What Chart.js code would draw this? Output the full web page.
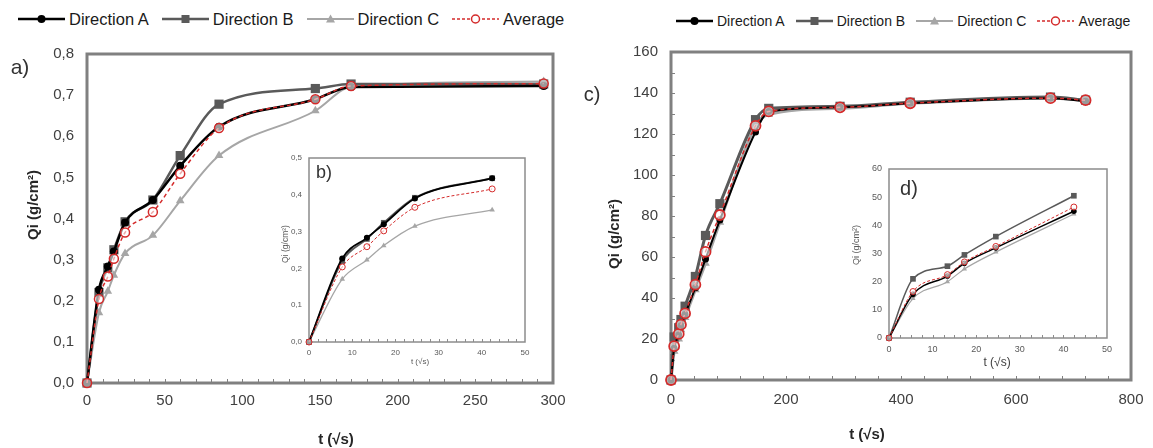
<!DOCTYPE html>
<html>
<head>
<meta charset="utf-8">
<title>Qi vs t</title>
<script src="https://cdn.jsdelivr.net/npm/chart.js@4.4.0/dist/chart.umd.min.js"></script>
<style>
  html, body { margin: 0; padding: 0; background: #fff; }
  #page { position: relative; width: 1153px; height: 448px; overflow: hidden;
          font-family: "Liberation Sans", Arial, sans-serif; }
  canvas { position: absolute; }
  .legend { position: absolute; display: flex; align-items: center; white-space: nowrap; color: #1a1a1a; line-height: 20px; }
  .legend .item { display: flex; align-items: center; }
  .legend svg { margin-right: 4px; }
  .txt { position: absolute; white-space: nowrap; transform: translate(-50%, -50%); line-height: 1; }
  .rot { transform: translate(-50%, -50%) rotate(-90deg); }
  .ttl { font-weight: bold; color: #262626; }
</style>
</head>
<body>
<div id="page">
  <div class="legend" id="legA" style="left:18px; top:9px; font-size:16.5px;"></div>
  <div class="legend" id="legC" style="left:676px; top:11px; font-size:14px;"></div>

  <canvas id="chartA" width="566" height="404" style="left:0; top:44px;"></canvas>
  <canvas id="chartB" width="268" height="224" style="left:268px; top:150px;"></canvas>
  <canvas id="chartC" width="578" height="408" style="left:575px; top:40px;"></canvas>
  <canvas id="chartD" width="275" height="215" style="left:845px; top:160px;"></canvas>

  <div class="txt" style="left:20px; top:66px; font-size:21px; color:#333;">a)</div>
  <div class="txt" style="left:324px; top:172px; font-size:18px; color:#333;">b)</div>
  <div class="txt" style="left:592px; top:94px; font-size:20px; color:#333;">c)</div>
  <div class="txt" style="left:909px; top:188px; font-size:20px; color:#333;">d)</div>

  <div class="txt ttl" style="left:336px; top:438px; font-size:15px;">t (√s)</div>
  <div class="txt ttl rot" style="left:32px; top:205px; font-size:15px;">Qi (g/cm²)</div>
  <div class="txt ttl" style="left:867px; top:433px; font-size:15px;">t (√s)</div>
  <div class="txt ttl rot" style="left:613px; top:234px; font-size:15px;">Qi (g/cm²)</div>

  <div class="txt" style="left:420px; top:362px; font-size:8px; color:#595959;">t (√s)</div>
  <div class="txt rot" style="left:285px; top:244px; font-size:8.5px; color:#595959;">Qi (g/cm²)</div>
  <div class="txt" style="left:997px; top:362px; font-size:12px; color:#404040;">t (√s)</div>
  <div class="txt rot" style="left:856px; top:245px; font-size:9px; color:#595959;">Qi (g/cm²)</div>
</div>

<script>
Chart.defaults.font.family = '"Liberation Sans", Arial, sans-serif';

// time in √s
const timeA = [0, 7.7, 13.4, 17.3, 24.5, 42.4, 60, 85, 147, 170, 294];
// panel a) and inset b) - Qi (g/cm2)
const aDirA = [0, 0.227, 0.283, 0.32, 0.39, 0.445, 0.528, 0.623, 0.69, 0.72, 0.722];
const aDirB = [0, 0.22, 0.28, 0.324, 0.392, 0.445, 0.553, 0.678, 0.716, 0.727, 0.727];
const aDirC = [0, 0.171, 0.223, 0.262, 0.315, 0.359, 0.443, 0.553, 0.662, 0.72, 0.733];
const aAvg  = [0, 0.204, 0.259, 0.302, 0.366, 0.416, 0.509, 0.62, 0.69, 0.722, 0.728];

// panel c) and inset d)
const timeC = [0, 5.5, 13.4, 17.3, 24.5, 42.4, 60, 85, 147, 170, 294, 416, 660, 721];
const cDirA = [0, 15.5, 22, 26.5, 32, 45, 59, 78, 121, 131, 133, 135, 137.5, 136];
const cDirB = [0, 21, 25.5, 29.5, 36, 50.5, 70.5, 86, 127, 132.5, 133.5, 135.5, 138, 136.5];
const cDirC = [0, 14, 20, 24.5, 30.5, 44, 57, 77, 124, 129.5, 132.5, 135, 137.5, 136.5];
const cAvg  = [0, 16.5, 22.5, 27, 32.5, 46.5, 62.5, 80.5, 124, 131, 133, 135, 137.5, 136.5];

const insetCount = 6; // insets show the first points only

const seriesNames = ['Direction A', 'Direction B', 'Direction C', 'Average'];
const seriesColors = ['#000000', '#5a5a5a', '#a6a6a6', '#d42a2a'];
const pointStyles = ['circle', 'rect', 'triangle', 'circle'];

// legend (html)
function icon(i, len) {
  const c = seriesColors[i], m = len / 2;
  let s = '<svg width="' + len + '" height="14">';
  if (i === 3) {
    s += '<line x1="0" y1="7" x2="' + len + '" y2="7" stroke="' + c + '" stroke-width="1.5" stroke-dasharray="3,2"/>';
    s += '<circle cx="' + m + '" cy="7" r="4" fill="#fff" stroke="' + c + '" stroke-width="1.5"/>';
  } else {
    s += '<line x1="0" y1="7" x2="' + len + '" y2="7" stroke="' + c + '" stroke-width="' + (i === 2 ? 2 : 2.5) + '"/>';
    if (i === 0) s += '<circle cx="' + m + '" cy="7" r="4" fill="' + c + '"/>';
    if (i === 1) s += '<rect x="' + (m - 4) + '" y="3" width="8" height="8" fill="' + c + '"/>';
    if (i === 2) s += '<polygon points="' + (m - 4.5) + ',10.5 ' + (m + 4.5) + ',10.5 ' + m + ',2.5" fill="' + c + '"/>';
  }
  return s + '</svg>';
}
function buildLegend(id, len, gap) {
  const el = document.getElementById(id);
  seriesNames.forEach((name, i) => {
    const item = document.createElement('span');
    item.className = 'item';
    if (i > 0) item.style.marginLeft = gap + 'px';
    item.innerHTML = icon(i, len) + '<span>' + name + '</span>';
    el.appendChild(item);
  });
}
buildLegend('legA', 47, 13);
buildLegend('legC', 37, 11);

// frame around plot area + small inner ticks
const framePlugin = {
  id: 'frame',
  beforeDatasetsDraw(chart, args, o) {
    const { ctx, chartArea: ca, scales } = chart;
    ctx.save();
    ctx.strokeStyle = o.color;
    ctx.lineWidth = 1;
    if (o.xMinor) {
      for (let v = scales.x.min + o.xMinor; v < scales.x.max - 1e-9; v += o.xMinor) {
        const px = Math.round(scales.x.getPixelForValue(v)) + 0.5;
        ctx.beginPath(); ctx.moveTo(px, ca.bottom); ctx.lineTo(px, ca.bottom - o.tick); ctx.stroke();
      }
    }
    if (o.yMinor) {
      for (let v = scales.y.min + o.yMinor; v < scales.y.max - 1e-9; v += o.yMinor) {
        const py = Math.round(scales.y.getPixelForValue(v)) + 0.5;
        ctx.beginPath(); ctx.moveTo(ca.left, py); ctx.lineTo(ca.left + o.tick, py); ctx.stroke();
      }
    }
    ctx.lineWidth = o.width;
    ctx.strokeRect(ca.left, ca.top, ca.right - ca.left, ca.bottom - ca.top);
    ctx.restore();
  }
};

function buildSets(t, ys, st) {
  return seriesNames.map((name, i) => ({
    label: name,
    data: ys[i].map((y, k) => ({ x: t[k], y: y })),
    borderColor: seriesColors[i],
    borderWidth: st.lineW[i],
    borderDash: i === 3 ? st.dash : [],
    pointStyle: pointStyles[i],
    pointRadius: st.pointR[i],
    pointBackgroundColor: i === 3 ? 'rgba(255,255,255,0.6)' : seriesColors[i],
    pointBorderColor: seriesColors[i],
    pointBorderWidth: i === 3 ? st.avgBorder : 0,
    cubicInterpolationMode: 'monotone',
    clip: false,
    order: [1, 2, 3, 0][i]
  }));
}

const comma = v => v.toFixed(1).replace('.', ',');

function makeChart(id, datasets, o) {
  return new Chart(document.getElementById(id), {
    type: 'line',
    data: { datasets: datasets },
    options: {
      responsive: false,
      animation: false,
      events: [],
      layout: { padding: o.pad },
      plugins: {
        legend: { display: false },
        tooltip: { enabled: false },
        frame: o.frame
      },
      scales: {
        x: {
          type: 'linear', min: o.x[0], max: o.x[1],
          ticks: { stepSize: o.x[2], padding: o.xPad, color: o.tickColor, font: { size: o.font }, maxRotation: 0 },
          grid: { display: false, drawTicks: false },
          border: { display: false },
          afterFit: s => { s.height = o.xH; s.paddingLeft = 0; s.paddingRight = 0; }
        },
        y: {
          type: 'linear', min: o.y[0], max: o.y[1],
          ticks: { stepSize: o.y[2], padding: o.yPad, color: o.tickColor, font: { size: o.font }, callback: o.yFmt },
          grid: { display: false, drawTicks: false },
          border: { display: false },
          afterFit: s => { s.width = o.yW; s.paddingTop = 0; s.paddingBottom = 0; }
        }
      }
    },
    plugins: [framePlugin]
  });
}

// a) main
makeChart('chartA',
  buildSets(timeA, [aDirA, aDirB, aDirC, aAvg],
    { lineW: [2.5, 2.5, 2, 1.5], pointR: [4, 6.5, 5, 4.5], dash: [4, 3], avgBorder: 1.5 }),
  { pad: { left: 0, top: 10, right: 13, bottom: 0 }, x: [0, 300, 50], y: [0, 0.8, 0.1],
    xH: 65, yW: 87, xPad: 9, yPad: 13, font: 15, tickColor: '#404040', yFmt: comma,
    frame: { color: '#808080', width: 3, tick: 4, xMinor: 10 } });

// b) inset
const cut = arr => arr.slice(0, insetCount);
makeChart('chartB',
  buildSets(cut(timeA), [cut(aDirA), cut(aDirB), cut(aDirC), cut(aAvg)],
    { lineW: [1.8, 1.8, 1.3, 1], pointR: [3, 4, 3.2, 3], dash: [3, 2], avgBorder: 1 }),
  { pad: { left: 0, top: 8, right: 11, bottom: 0 }, x: [0, 50, 10], y: [0, 0.5, 0.1],
    xH: 32, yW: 41, xPad: 6, yPad: 7, font: 8, tickColor: '#595959', yFmt: comma,
    frame: { color: '#8c8c8c', width: 1.5, tick: 3, xMinor: 2 } });

// c) main
makeChart('chartC',
  buildSets(timeC, [cDirA, cDirB, cDirC, cAvg],
    { lineW: [2, 3, 3, 1.5], pointR: [3.5, 6.5, 5, 5], dash: [4, 3], avgBorder: 1.8 }),
  { pad: { left: 0, top: 12, right: 22, bottom: 0 }, x: [0, 800, 200], y: [0, 160, 20],
    xH: 68, yW: 96, xPad: 11, yPad: 13, font: 15, tickColor: '#404040', yFmt: v => v,
    frame: { color: '#808080', width: 3, tick: 4, xMinor: 40, yMinor: 10 } });

// d) inset
makeChart('chartD',
  buildSets(cut(timeC), [cut(cDirA), cut(cDirB), cut(cDirC), cut(cAvg)],
    { lineW: [1.5, 1.5, 1.2, 1], pointR: [2.8, 4, 3, 3], dash: [3, 2], avgBorder: 1 }),
  { pad: { left: 0, top: 9, right: 13, bottom: 0 }, x: [0, 50, 10], y: [0, 60, 10],
    xH: 37, yW: 44, xPad: 6, yPad: 7, font: 9, tickColor: '#595959', yFmt: v => v,
    frame: { color: '#8c8c8c', width: 1.5, tick: 3, xMinor: 2.5 } });
</script>
</body>
</html>
